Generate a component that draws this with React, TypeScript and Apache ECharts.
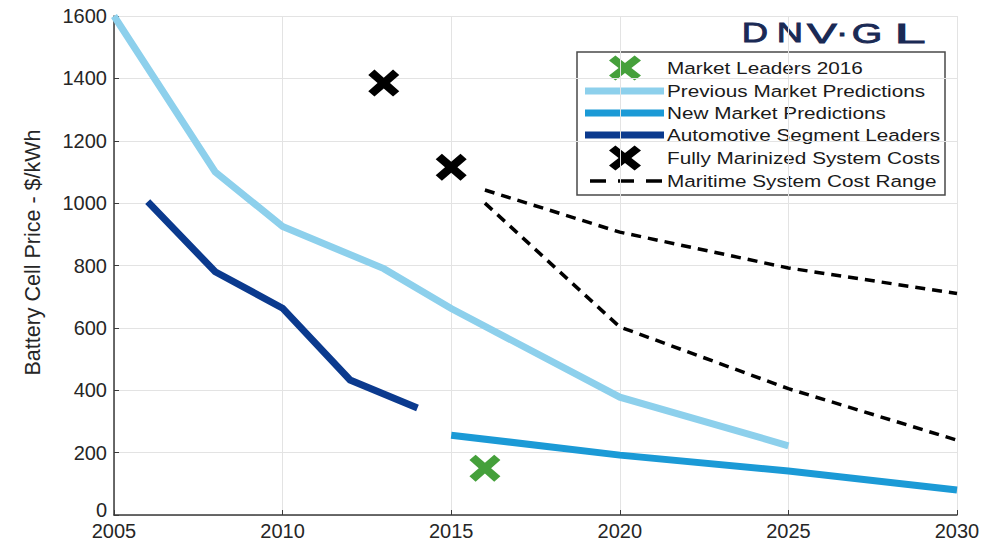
import React, { useEffect, useRef } from "react";
import * as echarts from "echarts";

// ---- data ----
const prevYears = [2005, 2008, 2010, 2013, 2015, 2020, 2025];
const prevValues = [1600, 1100, 925, 790, 662, 378, 222];
const newYears = [2015, 2020, 2025, 2030];
const newValues = [256, 192, 141, 80];
const autoYears = [2006, 2008, 2010, 2012, 2014];
const autoValues = [1005, 780, 663, 433, 343];
const leaderYears = [2016];
const leaderValues = [150];
const marinizedYears = [2013, 2015];
const marinizedValues = [1385, 1115];
const rangeYears = [2016, 2020, 2025, 2030];
const rangeUpper = [1042, 907, 792, 710];
const rangeLower = [1000, 603, 405, 240];

const xMin = 2005;
const xMax = 2030;
const xStep = 5;
const yMin = 0;
const yMax = 1600;
const yStep = 200;

const seriesNames = [
  "Market Leaders 2016",
  "Previous Market Predictions",
  "New Market Predictions",
  "Automotive Segment Leaders",
  "Fully Marinized System Costs",
  "Maritime System Cost Range",
];
const yAxisTitle = "Battery Cell Price - $/kWh";
const logoLetters = ["D", "N", "V", "·", "G", "L"];

// ---- styles ----
const C_PREV = "#8dd0ec";
const C_NEW = "#1b9ad6";
const C_AUTO = "#0b3a8e";
const C_GREEN = "#45a03b";
const C_BLACK = "#000000";
const FONT = "'Liberation Sans', Arial, Helvetica, sans-serif";

const X_UNIT: number[][] = [
  [0, 2], [2, 0], [5, 3], [8, 0], [10, 2], [7, 5],
  [10, 8], [8, 10], [5, 7], [2, 10], [0, 8], [3, 5],
];
const X_PATH =
  "path://" +
  X_UNIT.map((p, i) => (i === 0 ? "M" : "L") + p[0] + "," + p[1]).join(" ") +
  " Z";

const zip = (xs: number[], ys: number[]) => xs.map((x, i) => [x, ys[i]]);

function xPolygon(cx: number, cy: number, w: number, h: number) {
  return X_UNIT.map((p) => [cx - w / 2 + (p[0] / 10) * w, cy - h / 2 + (p[1] / 10) * h]);
}

function buildLegend() {
  const boxX = 577, boxY = 52, boxW = 368, boxH = 143;
  const rows = [68, 91, 113, 135, 158, 181];
  const iconL = 585, iconR = 664, iconC = 625, textX = 667;
  const children: any[] = [
    {
      type: "rect",
      shape: { x: boxX, y: boxY, width: boxW, height: boxH },
      style: { fill: "#ffffff", stroke: "#4a4a4a", lineWidth: 1.5 },
    },
  ];
  const lineIcon = (y: number, color: string, w: number, dash?: number[]) => ({
    type: "line",
    shape: { x1: dash ? 590 : iconL, y1: y, x2: dash ? 662 : iconR, y2: y },
    style: { stroke: color, lineWidth: w, lineDash: dash || null },
  });
  children.push({
    type: "polygon",
    shape: { points: xPolygon(iconC, rows[0], 32, 25) },
    style: { fill: C_GREEN },
  });
  children.push(lineIcon(rows[1], C_PREV, 7));
  children.push(lineIcon(rows[2], C_NEW, 7));
  children.push(lineIcon(rows[3], C_AUTO, 7));
  children.push({
    type: "polygon",
    shape: { points: xPolygon(iconC, rows[4], 32, 25) },
    style: { fill: C_BLACK },
  });
  children.push(lineIcon(rows[5], C_BLACK, 3.5, [16, 12]));
  seriesNames.forEach((name, i) => {
    children.push({
      type: "text",
      x: textX,
      y: rows[i],
      scaleX: 1.22,
      style: {
        text: name,
        x: 0,
        y: 0,
        fill: "#1a1a1a",
        font: `17px ${FONT}`,
        textAlign: "left",
        textVerticalAlign: "middle",
      },
    });
  });
  return { type: "group", z: 100, children };
}

function buildLogo() {
  const centers = [755, 790, 822, 842, 867, 910];
  const scales = [1.3, 1.3, 1.6, 1.3, 1.4, 2.0];
  return {
    type: "group",
    z: 100,
    children: logoLetters.map((ch, i) => ({
      type: "text",
      x: centers[i],
      y: 33,
      scaleX: scales[i],
      style: {
        text: ch,
        x: 0,
        y: 0,
        fill: "#1a2a55",
        stroke: "#1a2a55",
        lineWidth: 0.9,
        font: `28px ${FONT}`,
        textAlign: "center",
        textVerticalAlign: "middle",
      },
    })),
  };
}

export default function App() {
  const ref = useRef<HTMLDivElement>(null);
  useEffect(() => {
    if (!ref.current) return;
    const chart = echarts.init(ref.current, undefined, { renderer: "svg" });
    const axisColor = "#3a3a3a";
    const labelStyle = { color: "#262626", fontSize: 20, fontFamily: FONT };
    const lineSeries = (name: string, data: number[][], color: string, width: number, dash?: any) => ({
      name,
      type: "line",
      data,
      symbol: "none",
      lineStyle: { color, width, type: dash || "solid", cap: "butt", join: "miter" },
      itemStyle: { color },
      z: 3,
    });
    chart.setOption({
      animation: false,
      backgroundColor: "#ffffff",
      textStyle: { fontFamily: FONT },
      grid: { left: 114, right: 43, top: 16, bottom: 30, containLabel: false },
      xAxis: {
        type: "value",
        min: xMin,
        max: xMax,
        interval: xStep,
        axisLine: { show: true, lineStyle: { color: axisColor, width: 1.5 } },
        axisTick: { show: true, inside: true, length: 5, lineStyle: { color: axisColor } },
        axisLabel: { ...labelStyle, margin: 6, formatter: (v: number) => String(v) },
        splitLine: { show: true, lineStyle: { color: "#e3e3e3", width: 1 } },
      },
      yAxis: {
        type: "value",
        min: yMin,
        max: yMax,
        interval: yStep,
        name: yAxisTitle,
        nameLocation: "middle",
        nameGap: 70,
        nameTextStyle: {
          color: "#262626",
          fontSize: 21.5,
          fontFamily: FONT,
          padding: [0, 0, 0, 26],
        },
        axisLine: { show: true, lineStyle: { color: axisColor, width: 1.5 } },
        axisTick: { show: true, inside: true, length: 5, lineStyle: { color: axisColor } },
        axisLabel: {
          ...labelStyle,
          margin: 7,
          formatter: (v: number) => (v === 0 ? "{z|0}" : String(v)),
          rich: { z: { ...labelStyle, padding: [0, 0, 10, 0] } },
        },
        splitLine: { show: true, lineStyle: { color: "#e3e3e3", width: 1 } },
      },
      series: [
        lineSeries(seriesNames[1], zip(prevYears, prevValues), C_PREV, 7),
        lineSeries(seriesNames[2], zip(newYears, newValues), C_NEW, 7),
        lineSeries(seriesNames[3], zip(autoYears, autoValues), C_AUTO, 7),
        lineSeries(seriesNames[5], zip(rangeYears, rangeUpper), C_BLACK, 3.5, [10, 7]),
        lineSeries(seriesNames[5], zip(rangeYears, rangeLower), C_BLACK, 3.5, [10, 7]),
        {
          name: seriesNames[0],
          type: "scatter",
          data: zip(leaderYears, leaderValues),
          symbol: X_PATH,
          symbolSize: [31, 27],
          itemStyle: { color: C_GREEN, opacity: 1 },
          z: 4,
        },
        {
          name: seriesNames[4],
          type: "scatter",
          data: zip(marinizedYears, marinizedValues),
          symbol: X_PATH,
          symbolSize: [31, 27],
          itemStyle: { color: C_BLACK, opacity: 1 },
          z: 4,
        },
      ],
      graphic: [buildLogo(), buildLegend()],
    });
    return () => chart.dispose();
  }, []);
  return (
    <div
      ref={ref}
      style={{ position: "fixed", left: 0, top: 0, width: 1000, height: 545, background: "#fff" }}
    />
  );
}
